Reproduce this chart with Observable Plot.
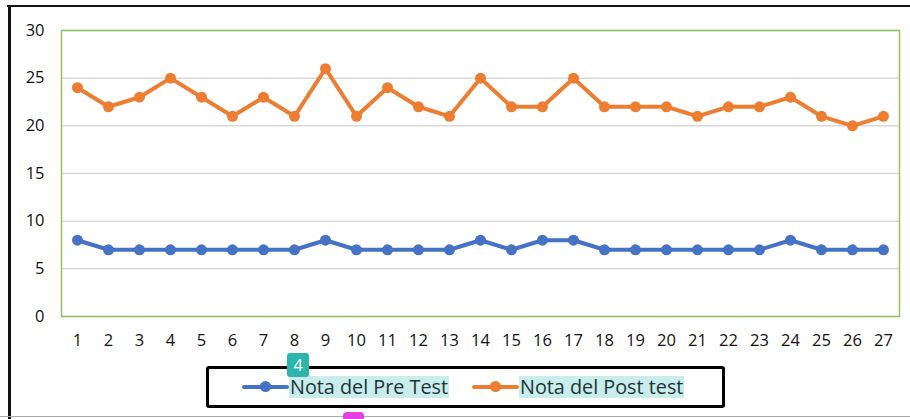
<!DOCTYPE html>
<html>
<head>
<meta charset="utf-8">
<script src="https://cdn.jsdelivr.net/npm/d3@7"></script>
<script src="https://cdn.jsdelivr.net/npm/@observablehq/plot@0.6"></script>
<style>
  html, body { margin: 0; padding: 0; background: #fff; }
  #wrap { position: relative; width: 910px; height: 419px; overflow: hidden; background: #fff; font-family: "Open Sans", sans-serif; }
  #frame-top { position: absolute; left: 7px; top: 5px; width: 903px; height: 2px; background: #111; }
  #frame-left { position: absolute; left: 8px; top: 5px; width: 3px; height: 414px; background: #111; }
  #frame-bottom { position: absolute; left: 0; top: 416px; width: 910px; height: 1px; background: #aaa; }
  #chart { position: absolute; left: 0; top: 0; }
  #chart svg text { font-size: 16.5px !important; fill: #111; }
  #legend { position: absolute; left: 206px; top: 366px; width: 513px; height: 36px; border: 3px solid #000; border-radius: 3px; }
  .item { position: absolute; top: 0; height: 36px; display: flex; align-items: center; }
  .sw { position: relative; width: 47px; height: 36px; }
  .sw .ln { position: absolute; left: 0; top: 16px; width: 47px; height: 4px; border-radius: 2px; }
  .sw .dt { position: absolute; left: 18px; top: 12px; width: 11px; height: 11px; border-radius: 50%; }
  .lab { background: #c9ecec; color: #1e3535; font-size: 19.8px; line-height: 22px; padding: 0 1px; }
  #badge { position: absolute; left: 287px; top: 353px; width: 22px; height: 24px; background: #2db5ad; color: #fff; border-radius: 3px; font-size: 16px; line-height: 24px; text-align: center; }
  #mag { position: absolute; left: 343px; top: 412px; width: 21px; height: 12px; background: #e63fe4; border-radius: 4px 4px 0 0; }
</style>
</head>
<body>
<div id="wrap">
  <div id="chart"></div>
  <div id="frame-top"></div>
  <div id="frame-left"></div>
  <div id="frame-bottom"></div>
  <div id="legend"></div>
  <div id="badge">4</div>
  <div id="mag"></div>
</div>
<script>
const categories = [1,2,3,4,5,6,7,8,9,10,11,12,13,14,15,16,17,18,19,20,21,22,23,24,25,26,27];
const preTest  = [8,7,7,7,7,7,7,7,8,7,7,7,7,8,7,8,8,7,7,7,7,7,7,8,7,7,7];
const postTest = [24,22,23,25,23,21,23,21,26,21,24,22,21,25,22,22,25,22,22,22,21,22,22,23,21,20,21];
const seriesNames = ["Nota del Pre Test", "Nota del Post test"];
const seriesColors = ["#4472C4", "#ED7D31"];
const yTicks = [0,5,10,15,20,25,30];

const rows = [];
categories.forEach((c, i) => {
  rows.push({cat: c, value: preTest[i], series: seriesNames[0]});
  rows.push({cat: c, value: postTest[i], series: seriesNames[1]});
});

const chart = Plot.plot({
  width: 910,
  height: 360,
  marginLeft: 61,
  marginRight: 11,
  marginTop: 30,
  marginBottom: 44,
  style: { fontFamily: "Open Sans, sans-serif", fontSize: "16.5px", color: "#111", background: "transparent" },
  x: { type: "point", domain: categories, padding: 0.5, label: null, tickSize: 0, tickPadding: 18 },
  y: { domain: [0, 30], ticks: yTicks, label: null, tickSize: 0, tickPadding: 17 },
  color: { domain: seriesNames, range: seriesColors },
  marks: [
    Plot.gridY(yTicks, { stroke: "#d9d9d9", strokeOpacity: 1, strokeWidth: 1.5 }),
    Plot.frame({ stroke: "#8ec45f", strokeWidth: 1.5 }),
    Plot.line(rows, { x: "cat", y: "value", z: "series", stroke: "series", strokeWidth: 4, strokeLinejoin: "round", strokeLinecap: "round" }),
    Plot.dot(rows, { x: "cat", y: "value", fill: "series", r: 5.5 })
  ]
});
document.getElementById("chart").appendChild(chart);

const legend = document.getElementById("legend");
const lefts = [33, 263];
seriesNames.forEach((name, i) => {
  const item = document.createElement("div");
  item.className = "item";
  item.style.left = lefts[i] + "px";
  item.innerHTML = `<div class="sw"><div class="ln" style="background:${seriesColors[i]}"></div><div class="dt" style="background:${seriesColors[i]}"></div></div><span class="lab">${name}</span>`;
  legend.appendChild(item);
});
</script>
</body>
</html>
